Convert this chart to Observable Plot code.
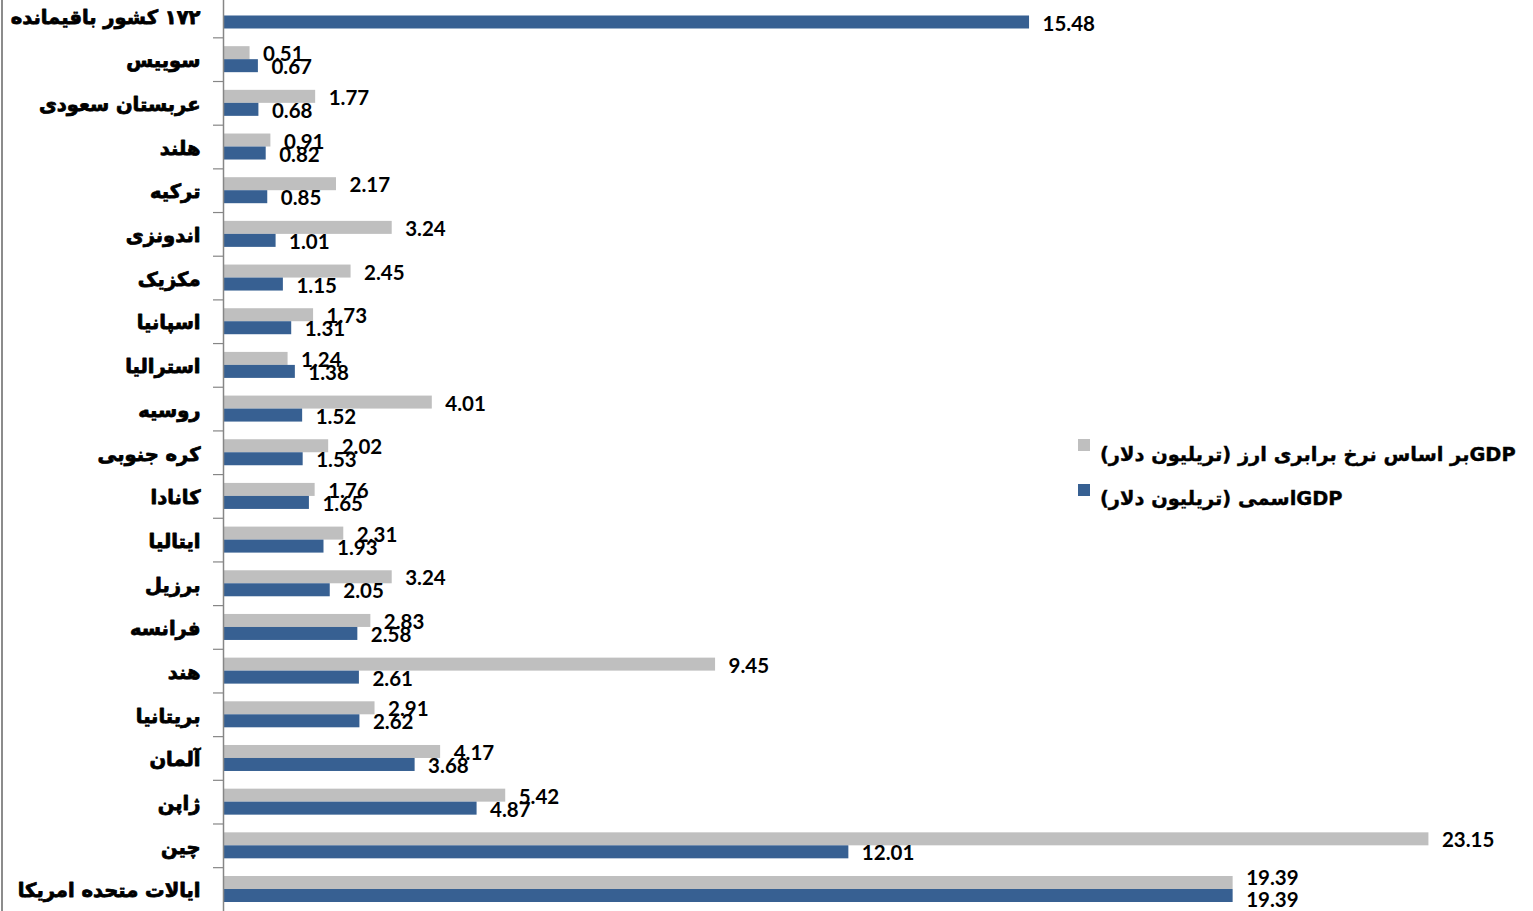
<!DOCTYPE html>
<html>
<head>
<meta charset="utf-8">
<script src="https://cdn.jsdelivr.net/npm/d3@7"></script>
<script src="https://cdn.jsdelivr.net/npm/@observablehq/plot@0.6"></script>
<style>
  html, body { margin: 0; padding: 0; background: #fff; }
  #chart { position: relative; width: 1533px; height: 911px; overflow: hidden; background: #fff; }
  #chart svg { position: absolute; left: 0; top: 0; }
  #frame { position: absolute; left: 1px; top: 0; width: 2px; height: 911px; background: #8c8c8c; }
  .swatch { position: absolute; left: 1078px; width: 12px; height: 12px; }
  .name { position: absolute; left: 1100px; line-height: 24px; direction: rtl; unicode-bidi: isolate;
          font-family: "DejaVu Sans", sans-serif; font-weight: bold; font-size: 19.4px; color: #000;
          white-space: nowrap; -webkit-text-stroke: 0.4px #000; }
</style>
</head>
<body>
<div id="chart"><div id="frame"></div></div>
<script>
// Countries, top row to bottom row
const categories = [
  "۱۷۲ کشور باقیمانده", "سوییس", "عربستان سعودی", "هلند", "ترکیه", "اندونزی",
  "مکزیک", "اسپانیا", "استرالیا", "روسیه", "کره جنوبی", "کانادا", "ایتالیا",
  "برزیل", "فرانسه", "هند", "بریتانیا", "آلمان", "ژاپن", "چین", "ایالات متحده امریکا"
];

// GDP at purchasing power parity, trillion dollars (no value for the remaining countries)
const pppValues = [
  null, 0.51, 1.77, 0.91, 2.17, 3.24, 2.45, 1.73, 1.24, 4.01, 2.02, 1.76, 2.31,
  3.24, 2.83, 9.45, 2.91, 4.17, 5.42, 23.15, 19.39
];

// Nominal GDP, trillion dollars
const nominalValues = [
  15.48, 0.67, 0.68, 0.82, 0.85, 1.01, 1.15, 1.31, 1.38, 1.52, 1.53, 1.65, 1.93,
  2.05, 2.58, 2.61, 2.62, 3.68, 4.87, 12.01, 19.39
];

const seriesNames = [
  "GDPبر اساس نرخ برابری ارز (تریلیون دلار)",
  "GDPاسمی (تریلیون دلار)"
];
const seriesColors = ["#BFBFBF", "#376092"];

// Rows whose two values are equal get their labels pushed apart
const same = categories.map((c, i) => pppValues[i] === nominalValues[i]);
const ppp = categories.map((c, i) => ({category: c, value: pppValues[i], same: same[i]})).filter(d => d.value != null);
const nominal = categories.map((c, i) => ({category: c, value: nominalValues[i], same: same[i]}));

const W = 1533, H = 911;
const yRange = [-6.34, 910.84];
const band = (yRange[1] - yRange[0]) / categories.length;
const half = band / 2;
const barH = 13;

const labelFont = {fontFamily: "Lato, 'Open Sans', sans-serif", fontWeight: "bold", fontSize: 20.5, fill: "#000"};

const chart = Plot.plot({
  width: W,
  height: H,
  marginLeft: 223,
  marginRight: 8.25,
  marginTop: 0,
  marginBottom: 0,
  x: {domain: [0, 25], axis: null},
  y: {domain: categories, range: yRange, padding: 0, round: false, axis: null},
  marks: [
    Plot.barX(ppp, {x: "value", y: "category", fill: seriesColors[0], insetTop: half - barH, insetBottom: half}),
    Plot.barX(nominal, {x: "value", y: "category", fill: seriesColors[1], insetTop: half, insetBottom: half - barH}),
    Plot.ruleX([0], {stroke: "#868686", strokeWidth: 1.5}),
    Plot.ruleY(categories, {y: d => d, dy: -half, x1: 0, x2: 0, insetLeft: -10, stroke: "#868686", strokeWidth: 1.2}),
    Plot.text(ppp.filter(d => !d.same), {x: "value", y: "category", text: d => d.value.toFixed(2), dx: 13, dy: -5, textAnchor: "start", ...labelFont}),
    Plot.text(ppp.filter(d => d.same), {x: "value", y: "category", text: d => d.value.toFixed(2), dx: 13, dy: -11, textAnchor: "start", ...labelFont}),
    Plot.text(nominal.filter(d => !d.same), {x: "value", y: "category", text: d => d.value.toFixed(2), dx: 13, dy: 8, textAnchor: "start", ...labelFont}),
    Plot.text(nominal.filter(d => d.same), {x: "value", y: "category", text: d => d.value.toFixed(2), dx: 13, dy: 11, textAnchor: "start", ...labelFont}),
    Plot.text(categories, {x: 0, y: d => d, text: d => "\u202B" + d + "\u202C", dx: -23, dy: 1.5, textAnchor: "end",
      fontFamily: "'DejaVu Sans', sans-serif", fontWeight: "bold", fontSize: 19.5, fill: "#000",
      stroke: "#000", strokeWidth: 0.8})
  ]
});

const root = document.getElementById("chart");
root.appendChild(chart);

// Legend: swatch to the left of each right-to-left series name
const swatchTops = [439, 484];
const nameTops = [443, 487];
seriesNames.forEach((name, i) => {
  const sw = document.createElement("div");
  sw.className = "swatch";
  sw.style.top = swatchTops[i] + "px";
  sw.style.background = seriesColors[i];
  const tx = document.createElement("div");
  tx.className = "name";
  tx.style.top = nameTops[i] + "px";
  tx.textContent = name;
  root.appendChild(sw);
  root.appendChild(tx);
});
</script>
</body>
</html>
